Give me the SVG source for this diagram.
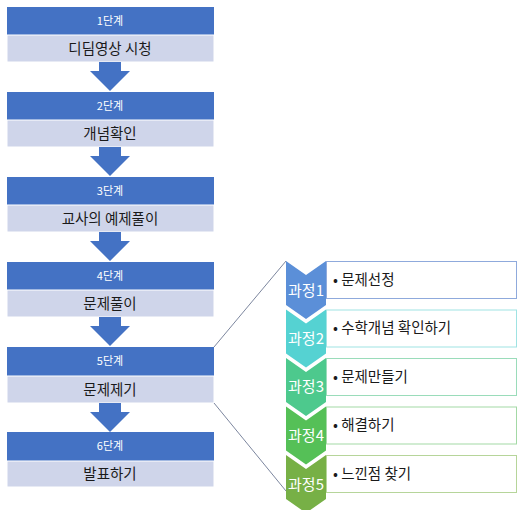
<svg xmlns="http://www.w3.org/2000/svg" width="518" height="510" viewBox="0 0 518 510">
<style>
text{font-family:"Noto Sans CJK KR","Noto Sans",sans-serif}
.hd{fill:#4472C4}
.bd{fill:#CFD5EA;stroke:#ffffff;stroke-width:1}
.ht{fill:#ffffff;font-size:11px;text-anchor:middle}
.bt{fill:#1a1a1a;font-size:14.5px;text-anchor:middle}
.ar{fill:#4472C4}
.ct{fill:#ffffff;font-size:15px;text-anchor:middle}
.bx{fill:#ffffff;stroke-width:1}
.lt{fill:#1a1a1a;font-size:14.5px}
.cn{fill:none;stroke:#5b6785;stroke-width:0.8}
</style>
<defs>
<path id="arr" d="M-11,0 H11 V9 H20 L0,29 L-20,9 H-11 Z"/>
<path id="chev" d="M0,0 L20,14 L40,0 V44 L20,58 L0,44 Z"/>
</defs>
<g id="stage1"><rect class="hd" x="7" y="7" width="207" height="28"/><rect class="bd" x="7" y="35" width="207" height="27"/><text class="ht" x="110" y="25">1단계</text><text class="bt" x="110" y="54">디딤영상 시청</text></g>
<g id="stage2"><rect class="hd" x="7" y="92" width="207" height="28"/><rect class="bd" x="7" y="120" width="207" height="27"/><text class="ht" x="110" y="110">2단계</text><text class="bt" x="110" y="139">개념확인</text></g>
<g id="stage3"><rect class="hd" x="7" y="177" width="207" height="28"/><rect class="bd" x="7" y="205" width="207" height="27"/><text class="ht" x="110" y="195">3단계</text><text class="bt" x="110" y="224">교사의 예제풀이</text></g>
<g id="stage4"><rect class="hd" x="7" y="262" width="207" height="28"/><rect class="bd" x="7" y="290" width="207" height="27"/><text class="ht" x="110" y="280">4단계</text><text class="bt" x="110" y="309">문제풀이</text></g>
<g id="stage5"><rect class="hd" x="7" y="347" width="207" height="29"/><rect class="bd" x="7" y="376" width="207" height="27"/><text class="ht" x="110" y="365">5단계</text><text class="bt" x="110" y="395">문제제기</text></g>
<g id="stage6"><rect class="hd" x="7" y="432" width="207" height="29"/><rect class="bd" x="7" y="461" width="207" height="26"/><text class="ht" x="110" y="450">6단계</text><text class="bt" x="110" y="479">발표하기</text></g>
<g id="connectors">
<use href="#arr" class="ar" x="110" y="62"/>
<use href="#arr" class="ar" x="110" y="147"/>
<use href="#arr" class="ar" x="110" y="232"/>
<use href="#arr" class="ar" x="110" y="317"/>
<use href="#arr" class="ar" x="110" y="403"/>
<line class="cn" x1="214" y1="347" x2="286" y2="261"/>
<line class="cn" x1="214" y1="403" x2="286" y2="491"/>
</g>
<g id="step1"><rect class="bx" x="326.5" y="261.5" width="190" height="37" stroke="#8FAADC"/><use href="#chev" x="286" y="261" fill="#5B8FD8"/><text class="ct" x="306" y="296">과정1</text><text class="lt" x="333" y="285">• 문제선정</text></g>
<g id="step2"><rect class="bx" x="326.5" y="310" width="190" height="37" stroke="#9FE3E3"/><use href="#chev" x="286" y="309.5" fill="#55D2D2"/><text class="ct" x="306" y="344">과정2</text><text class="lt" x="333" y="333">• 수학개념 확인하기</text></g>
<g id="step3"><rect class="bx" x="326.5" y="358.5" width="190" height="37" stroke="#9ADCBA"/><use href="#chev" x="286" y="358" fill="#4DC98D"/><text class="ct" x="306" y="392">과정3</text><text class="lt" x="333" y="382">• 문제만들기</text></g>
<g id="step4"><rect class="bx" x="326.5" y="407" width="190" height="37" stroke="#A3D9A5"/><use href="#chev" x="286" y="406.5" fill="#55C057"/><text class="ct" x="306" y="441">과정4</text><text class="lt" x="333" y="430">• 해결하기</text></g>
<g id="step5"><rect class="bx" x="326.5" y="455.5" width="190" height="37" stroke="#B6D59A"/><use href="#chev" x="286" y="455" fill="#77B046"/><text class="ct" x="306" y="490">과정5</text><text class="lt" x="333" y="479">• 느낀점 찾기</text></g>
</svg>
